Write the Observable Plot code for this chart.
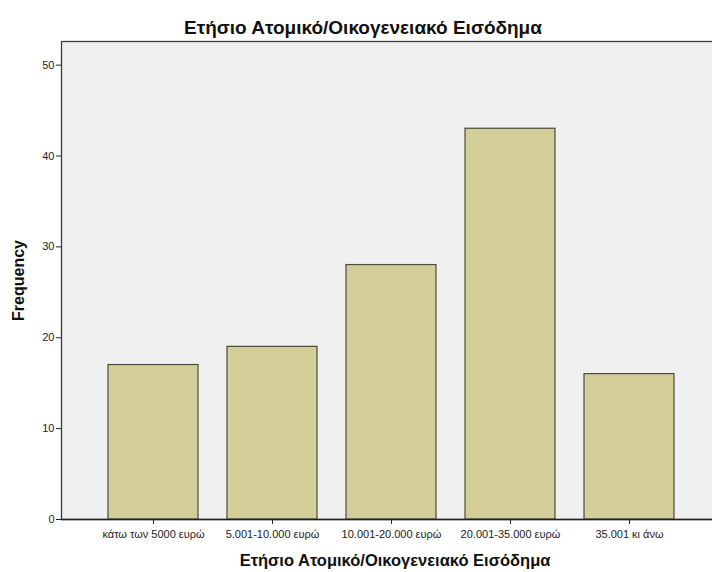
<!DOCTYPE html>
<html>
<head>
<meta charset="utf-8">
<script src="https://cdn.jsdelivr.net/npm/d3@7"></script>
<script src="https://cdn.jsdelivr.net/npm/@observablehq/plot@0.6"></script>
<style>
  html, body { margin: 0; padding: 0; background: #ffffff; }
</style>
</head>
<body>
<div id="chart"></div>
<script>
const categories = ["κάτω των 5000 ευρώ", "5.001-10.000 ευρώ", "10.001-20.000 ευρώ", "20.001-35.000 ευρώ", "35.001 κι άνω"];
const frequencies = [17, 19, 28, 43, 16];
const yTicks = [0, 10, 20, 30, 40, 50];
const titleText = "Ετήσιο Ατομικό/Οικογενειακό Εισόδημα";
const xLabelText = "Ετήσιο Ατομικό/Οικογενειακό Εισόδημα";
const yLabelText = "Frequency";

const data = categories.map((c, i) => ({category: c, frequency: frequencies[i]}));

const chart = Plot.plot({
  width: 712,
  height: 572,
  marginTop: 41,
  marginBottom: 53,
  marginLeft: 61,
  marginRight: 0,
  style: {fontFamily: "'Liberation Sans', Arial, sans-serif", background: "#ffffff", overflow: "hidden"},
  x: {domain: categories, range: [93.5, 688.5], paddingInner: 0.245, paddingOuter: 0.1225, label: null},
  y: {domain: [0, 52.6], label: null},
  marks: [
    Plot.frame({fill: "#f0f0f0", stroke: "#3a3a3a", strokeWidth: 1.3, insetRight: -3}),
    Plot.barY(data, {x: "category", y: "frequency", fill: "#d3cd97", stroke: "#4b4b3e", strokeWidth: 1.2}),
    Plot.ruleY([0], {stroke: "#222", strokeWidth: 1.3}),
    Plot.ruleX([0], {frameAnchor: "left", stroke: "#222", strokeWidth: 1.3}),
    Plot.axisY({ticks: yTicks, tickSize: 5, tickPadding: 2, fontSize: 11, color: "#222", label: null}),
    Plot.axisX({tickSize: 5, tickPadding: 6, fontSize: 11, color: "#222", label: null}),
    Plot.text([titleText], {frameAnchor: "top", lineAnchor: "middle", textAnchor: "middle", dx: -24, dy: -14, fontSize: 19, fontWeight: "bold", fill: "#111"}),
    Plot.text([xLabelText], {frameAnchor: "bottom", lineAnchor: "middle", textAnchor: "middle", dx: 8, dy: 41, fontSize: 16.5, fontWeight: "bold", fill: "#111"}),
    Plot.text([yLabelText], {frameAnchor: "left", lineAnchor: "middle", textAnchor: "middle", dx: -43, rotate: -90, fontSize: 16, fontWeight: "bold", fill: "#111"})
  ]
});
document.getElementById("chart").appendChild(chart);
</script>
</body>
</html>
